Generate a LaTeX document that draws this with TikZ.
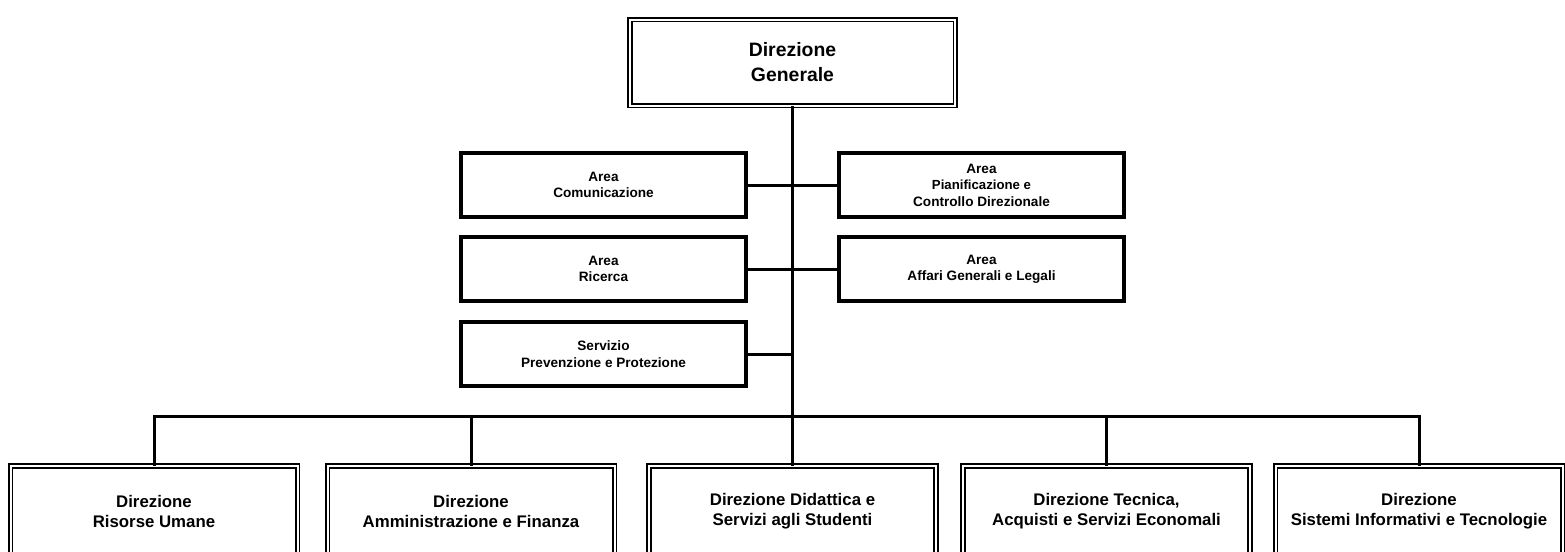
\documentclass[tikz,border=0pt]{standalone}
\usepackage{fontspec}
\setmainfont{Liberation Sans}
\usepackage{tikz}
\tikzset{
    dirbox/.style={draw,double,line width=0.8pt,double distance=1pt,inner sep=0pt,outer sep=0pt,
        minimum width=143.5pt,minimum height=45pt,align=center,font=\bfseries\fontsize{8.4}{10}\selectfont},
    areabox/.style={draw,line width=2pt,inner sep=0pt,outer sep=0pt,
        minimum width=142.5pt,minimum height=32pt,align=center,font=\bfseries\fontsize{6.8}{8.2}\selectfont},
    link/.style={line width=1.5pt}
}
\begin{document}
\begin{tikzpicture}[x=0.5pt,y=-0.5pt]
        \useasboundingbox (0,0) rectangle (1565,552);
        \clip (0,0) rectangle (1565,552);
        % vertice
        \node[dirbox,minimum width=162.6pt,minimum height=43pt,font=\bfseries\fontsize{9.7}{12.5}\selectfont] (dg) at (792.5,62.5) {Direzione\\Generale};
        % aree di staff
        \node[areabox] (com) at (603.5,185) {Area\\Comunicazione};
        \node[areabox] (pia) at (981.5,185) {Area\\{\fontsize{6.6}{8}\selectfont Pianificazione e}\\Controllo Direzionale};
        \node[areabox] (ric) at (603.5,269) {Area\\Ricerca};
        \node[areabox] (aff) at (981.5,269) {Area\\Affari Generali e Legali};
        \node[areabox] (spp) at (603.5,354) {Servizio\\Prevenzione e Protezione};
        % direzioni
        \node[dirbox] (rum) at (154,511) {Direzione\\Risorse Umane};
        \node[dirbox] (amm) at (471,511) {Direzione\\Amministrazione e Finanza};
        \node[dirbox] (did) at (792.5,511) {Direzione Didattica e\\Servizi agli Studenti};
        \node[dirbox] (tec) at (1106.5,511) {Direzione Tecnica,\\Acquisti e Servizi Economali};
        \node[dirbox] (sit) at (1419,511) {Direzione\\Sistemi Informativi e Tecnologie};
        % collegamenti
        \draw [link] (dg.south) -- (did.north);
        \draw [link] (com.east) -- (pia.west);
        \draw [link] (ric.east) -- (aff.west);
        \draw [link] (spp.east) -- (spp.east -| dg.south);
        \draw [link] (rum.north) -- ++(0,-50) -| (sit.north);
        \draw [link] (amm.north) -- ++(0,-50);
        \draw [link] (tec.north) -- ++(0,-50);
    \end{tikzpicture}
\end{document}
